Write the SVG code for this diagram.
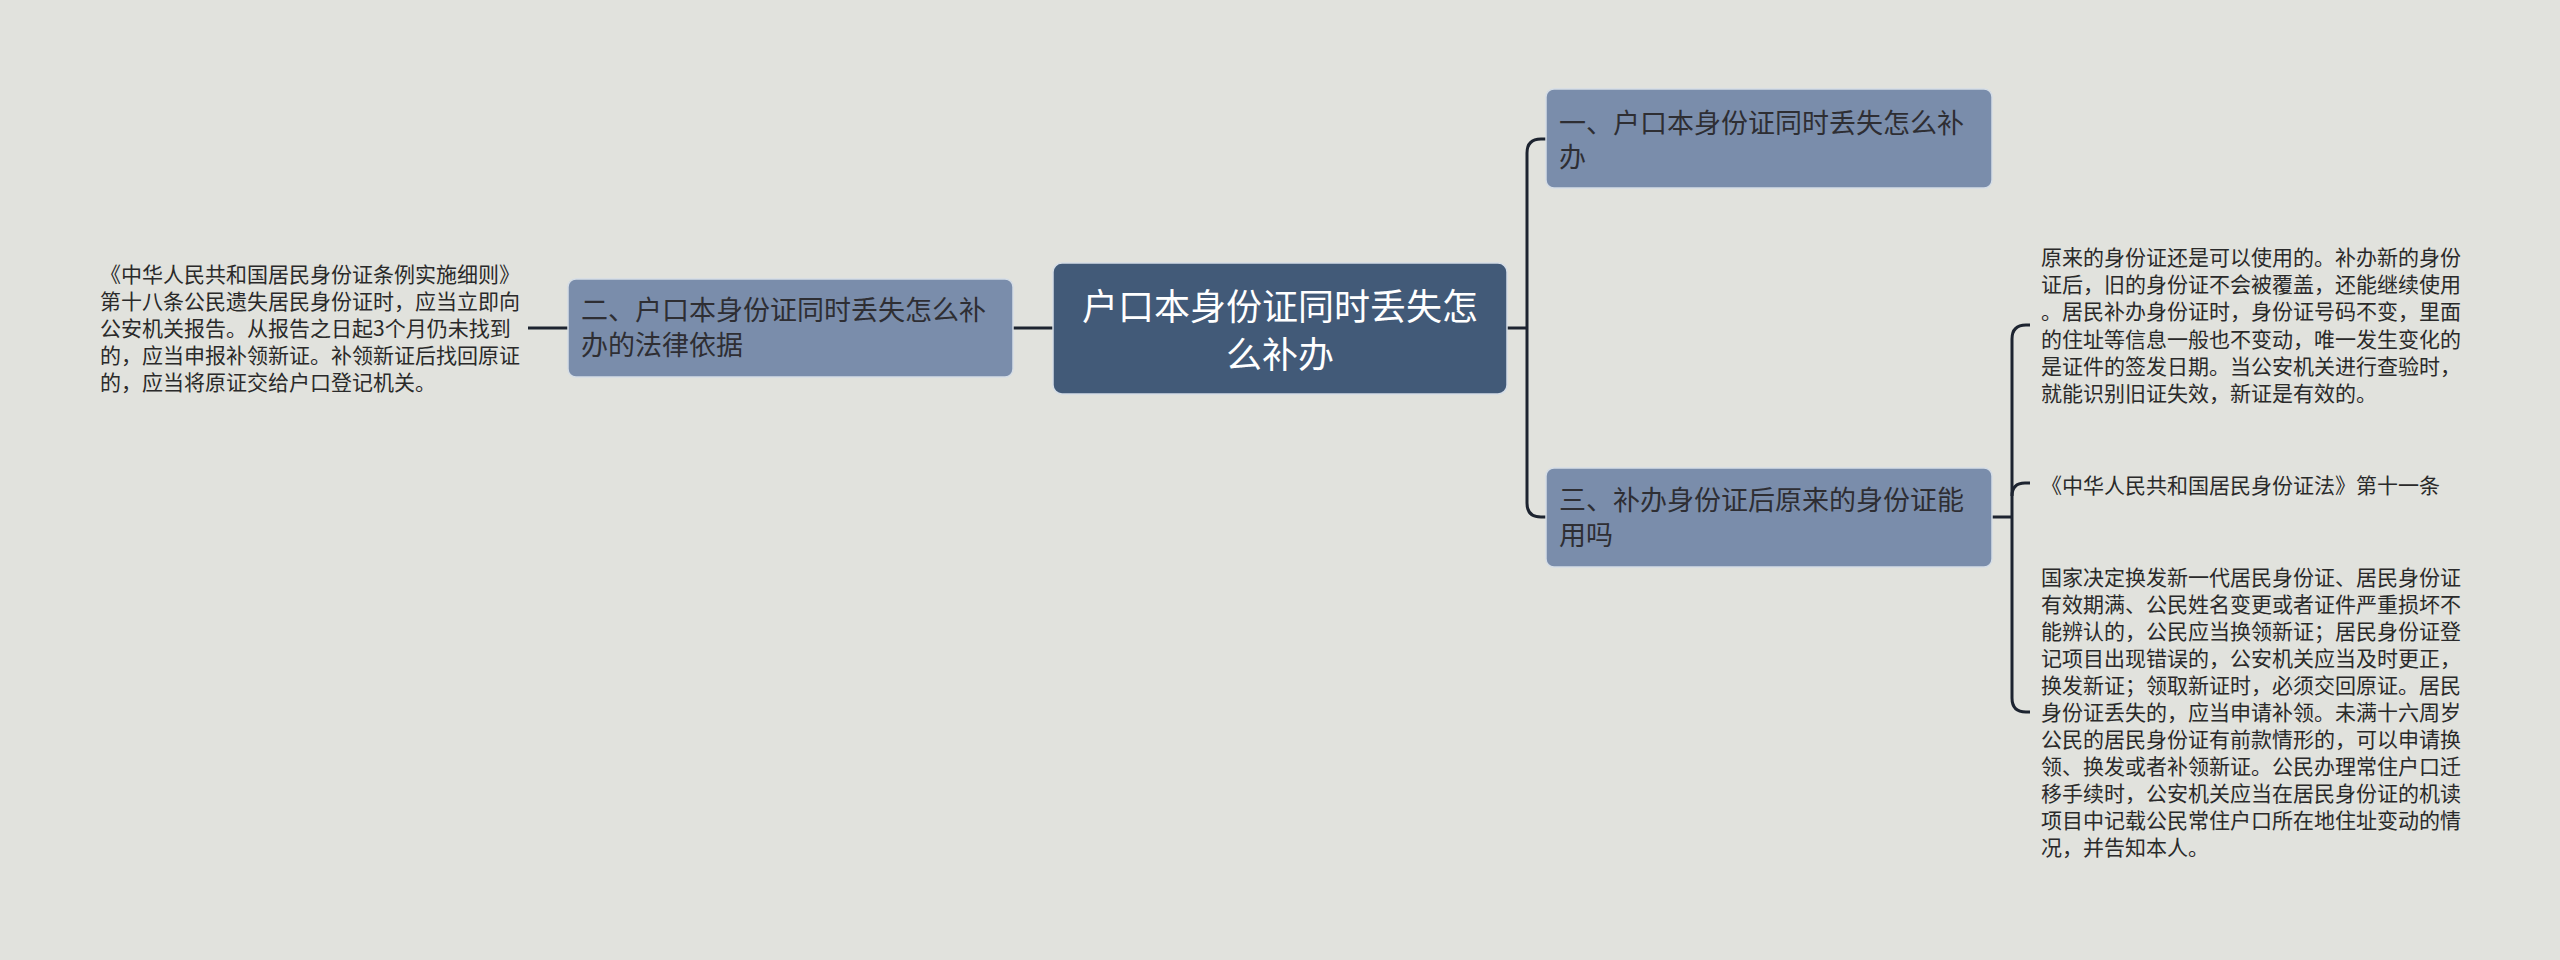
<svg xmlns="http://www.w3.org/2000/svg" width="2560" height="960" viewBox="0 0 2560 960">
<style>
text{font-family:"Noto Sans CJK SC","Noto Sans",sans-serif;}
.main{fill:#425a78;stroke:#d5dde6;stroke-width:1.5;}
.sub{fill:#7a8dab;stroke:#d5dde6;stroke-width:1.5;}
.tmain{fill:#ffffff;font-size:36px;}
.tsub{fill:#2e2e33;font-size:27px;}
.tleaf{fill:#2a2a2a;font-size:21px;}
.conn{fill:none;stroke:#1d2430;stroke-width:3;}
</style>
<rect width="2560" height="960" fill="#e1e2dd"/>
<g id="connectors">
<path class="conn" d="M1013 328 H1053"/>
<path class="conn" d="M528 328 H568"/>
<path class="conn" d="M1507 328 H1527"/>
<path class="conn" d="M1546 139 H1541 Q1527 139 1527 153 V503 Q1527 517 1541 517 H1546"/>
<path class="conn" d="M1992 517 H2012"/>
<path class="conn" d="M2030 325 H2026 Q2012 325 2012 339 V698 Q2012 712 2026 712 H2030"/>
<path class="conn" d="M2012 496 Q2012 483 2025 483 H2030"/>
</g>
<g id="center">
<rect class="main" x="1053" y="263" width="454" height="131" rx="9"/>
<text class="tmain" x="1280" y="320" text-anchor="middle">户口本身份证同时丢失怎</text>
<text class="tmain" x="1280" y="368" text-anchor="middle">么补办</text>
</g>
<g id="node1">
<rect class="sub" x="1546" y="89" width="446" height="99" rx="8"/>
<text class="tsub" x="1559" y="133">一、户口本身份证同时丢失怎么补</text>
<text class="tsub" x="1559" y="167">办</text>
</g>
<g id="node2">
<rect class="sub" x="568" y="279" width="445" height="98" rx="8"/>
<text class="tsub" x="581" y="320">二、户口本身份证同时丢失怎么补</text>
<text class="tsub" x="581" y="355">办的法律依据</text>
</g>
<g id="node3">
<rect class="sub" x="1546" y="468" width="446" height="99" rx="8"/>
<text class="tsub" x="1559" y="510">三、补办身份证后原来的身份证能</text>
<text class="tsub" x="1559" y="545">用吗</text>
</g>
<g id="leaf-left">
<text class="tleaf" x="100" y="282">《中华人民共和国居民身份证条例实施细则》</text>
<text class="tleaf" x="100" y="309">第十八条公民遗失居民身份证时，应当立即向</text>
<text class="tleaf" x="100" y="336">公安机关报告。从报告之日起3个月仍未找到</text>
<text class="tleaf" x="100" y="363">的，应当申报补领新证。补领新证后找回原证</text>
<text class="tleaf" x="100" y="390">的，应当将原证交给户口登记机关。</text>
</g>
<g id="leaf-right1">
<text class="tleaf" x="2041" y="265">原来的身份证还是可以使用的。补办新的身份</text>
<text class="tleaf" x="2041" y="292">证后，旧的身份证不会被覆盖，还能继续使用</text>
<text class="tleaf" x="2041" y="319">。居民补办身份证时，身份证号码不变，里面</text>
<text class="tleaf" x="2041" y="347">的住址等信息一般也不变动，唯一发生变化的</text>
<text class="tleaf" x="2041" y="374">是证件的签发日期。当公安机关进行查验时，</text>
<text class="tleaf" x="2041" y="401">就能识别旧证失效，新证是有效的。</text>
</g>
<g id="leaf-right2">
<text class="tleaf" x="2041" y="493">《中华人民共和国居民身份证法》第十一条</text>
</g>
<g id="leaf-right3">
<text class="tleaf" x="2041" y="585">国家决定换发新一代居民身份证、居民身份证</text>
<text class="tleaf" x="2041" y="612">有效期满、公民姓名变更或者证件严重损坏不</text>
<text class="tleaf" x="2041" y="639">能辨认的，公民应当换领新证；居民身份证登</text>
<text class="tleaf" x="2041" y="666">记项目出现错误的，公安机关应当及时更正，</text>
<text class="tleaf" x="2041" y="693">换发新证；领取新证时，必须交回原证。居民</text>
<text class="tleaf" x="2041" y="720">身份证丢失的，应当申请补领。未满十六周岁</text>
<text class="tleaf" x="2041" y="747">公民的居民身份证有前款情形的，可以申请换</text>
<text class="tleaf" x="2041" y="774">领、换发或者补领新证。公民办理常住户口迁</text>
<text class="tleaf" x="2041" y="801">移手续时，公安机关应当在居民身份证的机读</text>
<text class="tleaf" x="2041" y="828">项目中记载公民常住户口所在地住址变动的情</text>
<text class="tleaf" x="2041" y="855">况，并告知本人。</text>
</g>
</svg>
